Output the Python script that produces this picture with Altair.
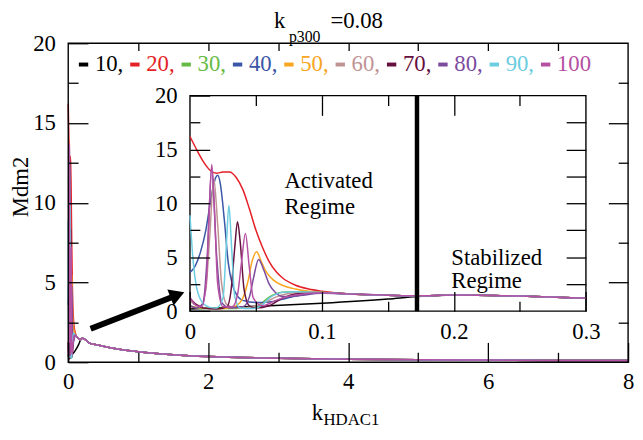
import altair as alt
import pandas as pd

FONT = "Liberation Serif"

SERIES = ["10", "20", "30", "40", "50", "60", "70", "80", "90", "100"]
COLORS = ["#000000", "#e41f26", "#66bb46", "#3a56a6", "#f8a51f",
          "#c09393", "#65103e", "#7c4b9d", "#6ccce0", "#b550a2"]

# head of each curve (small k_HDAC1)
X10 = [0, 0.05, 0.1, 0.15, 0.172]
Y10 = [0.2, 0.45, 0.73, 1.12, 1.35]
X20 = [0, 0.005, 0.01, 0.015, 0.02, 0.025, 0.03, 0.035, 0.04, 0.045, 0.05, 0.055, 0.06, 0.065, 0.07, 0.08, 0.09, 0.1]
Y20 = [16.2, 15.0, 13.9, 13.1, 12.8, 12.9, 12.9, 12.4, 11.3, 9.5, 7.5, 5.9, 4.6, 3.7, 3.1, 2.4, 2.05, 1.85]
X30 = [0, 0.005, 0.01, 0.02, 0.03, 0.04, 0.05, 0.055, 0.06, 0.065, 0.07, 0.08, 0.09, 0.1]
Y30 = [0.5, 0.3, 0.25, 0.25, 0.25, 0.3, 0.45, 0.8, 1.3, 1.6, 1.75, 1.8, 1.78, 1.72]
X40 = [0, 0.004, 0.008, 0.012, 0.016, 0.0195, 0.021, 0.023, 0.026, 0.029, 0.032, 0.036, 0.04, 0.05, 0.06, 0.07, 0.08, 0.1]
Y40 = [3.6, 4.2, 5.5, 7.5, 10.5, 12.4, 12.6, 11.8, 8.5, 4.5, 2.5, 1.4, 1.0, 0.8, 0.85, 1.1, 1.4, 1.7]
X50 = [0, 0.01, 0.02, 0.03, 0.035, 0.04, 0.044, 0.047, 0.0505, 0.054, 0.058, 0.063, 0.07, 0.08, 0.09, 0.1]
Y50 = [0.4, 0.3, 0.25, 0.3, 0.5, 1.2, 2.8, 4.6, 5.5, 4.6, 3.6, 2.9, 2.4, 2.05, 1.85, 1.75]
X60 = [0, 0.004, 0.008, 0.012, 0.015, 0.018, 0.021, 0.024, 0.028, 0.035, 0.045, 0.055, 0.065, 0.08, 0.1]
Y60 = [1.0, 0.6, 0.5, 2.0, 7.0, 12.3, 8.0, 2.5, 0.6, 0.3, 0.35, 0.7, 1.3, 1.7, 1.72]
X70 = [0, 0.005, 0.01, 0.02, 0.028, 0.031, 0.034, 0.036, 0.038, 0.041, 0.045, 0.05, 0.06, 0.07, 0.08, 0.1]
Y70 = [1.2, 0.6, 0.3, 0.2, 0.4, 1.8, 6.0, 8.3, 6.5, 2.0, 0.5, 0.3, 0.5, 1.2, 1.6, 1.72]
X80 = [0, 0.005, 0.01, 0.013, 0.0165, 0.02, 0.024, 0.03, 0.04, 0.045, 0.048, 0.052, 0.056, 0.06, 0.065, 0.07, 0.08, 0.1]
Y80 = [0.5, 0.3, 0.8, 5.0, 13.3, 5.5, 0.8, 0.3, 0.4, 1.3, 3.0, 4.8, 3.8, 2.5, 1.7, 1.35, 1.4, 1.65]
X90 = [0, 0.0025, 0.005, 0.0075, 0.01, 0.015, 0.02, 0.025, 0.0275, 0.0295, 0.0315, 0.034, 0.038, 0.045, 0.05, 0.055, 0.06, 0.065, 0.07, 0.08, 0.1]
Y90 = [8.9, 4.5, 2.2, 1.2, 0.7, 0.35, 0.3, 1.2, 6.0, 9.8, 6.0, 1.3, 0.3, 0.25, 0.3, 0.6, 1.2, 1.55, 1.75, 1.8, 1.72]
X100 = [0, 0.005, 0.009, 0.0125, 0.0145, 0.0165, 0.0185, 0.021, 0.025, 0.032, 0.036, 0.039, 0.042, 0.045, 0.048, 0.055, 0.065, 0.08, 0.1]
Y100 = [1.3, 0.5, 0.4, 3.0, 9.0, 13.6, 9.5, 2.5, 0.4, 0.4, 1.5, 4.5, 7.2, 4.0, 1.2, 0.5, 1.0, 1.5, 1.7]

# common tail shared by all curves (large k_HDAC1)
TAIL_X = [0.12, 0.15, 0.172, 0.2, 0.25, 0.3, 0.4, 0.5, 0.75, 1.0, 1.5, 2.0, 3.0, 4.0, 5.0, 6.0, 7.0, 8.0]
TAIL_Y = [1.6, 1.48, 1.42, 1.5, 1.4, 1.2, 1.1, 1.0, 0.8, 0.66, 0.47, 0.35, 0.25, 0.19, 0.15, 0.13, 0.11, 0.1]

HEAD_XS = [X10, X20, X30, X40, X50, X60, X70, X80, X90, X100]
HEAD_YS = [Y10, Y20, Y30, Y40, Y50, Y60, Y70, Y80, Y90, Y100]

REGIME_X = 0.172
ANNOT_TEXT = ["Activated", "Regime", "Stabilized", "Regime"]
ANNOT_X = [0.0716, 0.0716, 0.198, 0.198]
ANNOT_Y = [12.1, 9.7, 4.95, 2.8]
ARROW_X = [0.32, 1.47]
ARROW_Y = [2.1, 4.05]
ARROW_HEAD = [1.56, 4.22]

rows = []
for name, hx, hy in zip(SERIES, HEAD_XS, HEAD_YS):
    for x, y in zip(hx, hy):
        rows.append((name, x, y))
    for x, y in zip(TAIL_X, TAIL_Y):
        if x > hx[-1]:
            rows.append((name, x, y))
df = pd.DataFrame(rows, columns=["k", "x", "y"])
df_inset = df[df["x"] <= 0.3]

W, H = 567, 323
IX_RANGE = [123.3, 524.3]
IY_RANGE = [271.3, 53.0]

MXS = alt.Scale(domain=[0, 8], nice=False, zero=False)
MYS = alt.Scale(domain=[0, 20], nice=False, zero=False)
IXS = alt.Scale(domain=[0, 0.3], range=IX_RANGE, nice=False, zero=False)
IYS = alt.Scale(domain=[0, 20], range=IY_RANGE, nice=False, zero=False)
CS = alt.Scale(domain=SERIES, range=COLORS)

one = pd.DataFrame({"v": [0.0]})


def ax(orient, values, size, offset, **kw):
    base = dict(orient=orient, values=values, tickSize=size, offset=offset,
                domain=False, grid=False, labels=False, ticks=True,
                tickColor="black", tickWidth=1.3, title=None, zindex=1,
                labelFont=FONT, labelFontSize=23, labelColor="black",
                labelFlush=False, labelOverlap=False, format="~g",
                titleFont=FONT, titleFontSize=23, titleFontWeight="normal",
                titleColor="black")
    base.update(kw)
    return alt.Axis(**base)


def holder(channel, scale, axis):
    if channel == "x":
        enc = {"x": alt.X("v:Q", scale=scale, axis=axis)}
    else:
        enc = {"y": alt.Y("v:Q", scale=scale, axis=axis)}
    return alt.Chart(one).mark_point(opacity=0).encode(**enc)


legend = alt.Legend(
    orient="none", legendX=2, legendY=7.8, direction="horizontal",
    title=None, symbolType="stroke", symbolStrokeWidth=4, symbolSize=90,
    labelFont=FONT, labelFontSize=23,
    labelColor=alt.ExprRef(expr="scale('color', datum.value)"),
    labelExpr="datum.label == '100' ? datum.label : datum.label + ','",
    columnPadding=-6, labelOffset=0, fillColor="white", padding=2, zindex=1,
)

main_lines = alt.Chart(df).mark_line(strokeWidth=1.5, interpolate="monotone").encode(
    x=alt.X("x:Q", scale=MXS, axis=None),
    y=alt.Y("y:Q", scale=MYS, axis=None),
    color=alt.Color("k:N", scale=CS, legend=legend),
)

frame_df = pd.DataFrame({"x0": [0], "x1": [8], "y0": [0], "y1": [20]})
main_frame = alt.Chart(frame_df).mark_rect(fill="transparent", stroke="black", strokeWidth=1.4).encode(
    x=alt.X("x0:Q", scale=MXS, axis=None), x2="x1:Q",
    y=alt.Y("y0:Q", scale=MYS, axis=None), y2="y1:Q",
)

arrow_df = pd.DataFrame({"x0": [ARROW_X[0]], "x1": [ARROW_X[1]], "y0": [ARROW_Y[0]], "y1": [ARROW_Y[1]]})
arrow = alt.Chart(arrow_df).mark_rule(strokeWidth=6, color="black").encode(
    x=alt.X("x0:Q", scale=MXS, axis=None), x2="x1:Q",
    y=alt.Y("y0:Q", scale=MYS, axis=None), y2="y1:Q",
)
head_df = pd.DataFrame({"x": [ARROW_HEAD[0]], "y": [ARROW_HEAD[1]]})
arrow_head = alt.Chart(head_df).mark_point(shape="triangle-right", filled=True, size=300,
                                            angle=338.7, color="black", opacity=1).encode(
    x=alt.X("x:Q", scale=MXS, axis=None),
    y=alt.Y("y:Q", scale=MYS, axis=None),
)

inset_df = pd.DataFrame({"x0": [0], "x1": [0.3], "y0": [0], "y1": [20]})
inset_box = alt.Chart(inset_df).mark_rect(fill="white", stroke="black", strokeWidth=1.4).encode(
    x=alt.X("x0:Q", scale=IXS, axis=None), x2="x1:Q",
    y=alt.Y("y0:Q", scale=IYS, axis=None), y2="y1:Q",
)

inset_lines = alt.Chart(df_inset).mark_line(strokeWidth=1.5, interpolate="monotone").encode(
    x=alt.X("x:Q", scale=IXS, axis=None),
    y=alt.Y("y:Q", scale=IYS, axis=None),
    color=alt.Color("k:N", scale=CS, legend=None),
)

vline_df = pd.DataFrame({"x": [REGIME_X], "y0": [0], "y1": [20]})
vline = alt.Chart(vline_df).mark_rule(strokeWidth=4.5, color="black").encode(
    x=alt.X("x:Q", scale=IXS, axis=None),
    y=alt.Y("y0:Q", scale=IYS, axis=None), y2="y1:Q",
)

annot_df = pd.DataFrame({"t": ANNOT_TEXT, "x": ANNOT_X, "y": ANNOT_Y})
annot = alt.Chart(annot_df).mark_text(font=FONT, fontSize=23, align="left", baseline="middle",
                                      color="black").encode(
    x=alt.X("x:Q", scale=IXS, axis=None),
    y=alt.Y("y:Q", scale=IYS, axis=None),
    text="t:N",
)

MAJ, MIN = 20, 10
axes = [
    # main x
    holder("x", MXS, ax("bottom", [0, 2, 4, 6, 8], MAJ, -MAJ, labels=True, labelPadding=9,
                        title="k", titleX=246, titleY=78, titleAlign="left",
                        titleBaseline="alphabetic")),
    holder("x", MXS, ax("bottom", [1, 3, 5, 7], MIN, -MIN, title="HDAC1", titleX=258, titleY=73,
                        titleAlign="left", titleBaseline="alphabetic", titleFontSize=17)),
    holder("x", MXS, ax("top", [1, 2, 3, 4, 5, 6, 7], 9, -9, title="k", titleX=208, titleY=-25,
                        titleAlign="left", titleBaseline="alphabetic")),
    # main y
    holder("y", MYS, ax("left", [0, 5, 10, 15, 20], MAJ, -MAJ, labels=True, labelPadding=13,
                        title="Mdm2", titleAngle=270, titleX=-68, titleY=145,
                        titleAlign="center", titleBaseline="middle")),
    holder("y", MYS, ax("left", [2.5, 7.5, 12.5, 17.5], MIN, -MIN)),
    holder("y", MYS, ax("right", [5, 10, 15], MAJ, -MAJ, title="p300", titleAngle=0,
                        titleX=-324, titleY=-2, titleAlign="left", titleBaseline="alphabetic",
                        titleFontSize=16)),
    holder("y", MYS, ax("right", [2.5, 7.5, 12.5, 17.5], MIN, -MIN, title="=0.08", titleAngle=0,
                        titleX=-292, titleY=-16, titleAlign="left", titleBaseline="alphabetic")),
    # inset x
    holder("x", IXS, ax("bottom", [0, 0.1, 0.2, 0.3], MAJ, -(H - IY_RANGE[0]) - MAJ,
                        labels=True, labelPadding=10)),
    holder("x", IXS, ax("bottom", [0.05, 0.15, 0.25], MIN, -(H - IY_RANGE[0]) - MIN)),
    holder("x", IXS, ax("top", [0.1, 0.2], MAJ, -IY_RANGE[1] - MAJ)),
    holder("x", IXS, ax("top", [0.05, 0.15, 0.25], MIN, -IY_RANGE[1] - MIN)),
    # inset y
    holder("y", IYS, ax("left", [0, 5, 10, 15, 20], MAJ, -IX_RANGE[0] - MAJ,
                        labels=True, labelPadding=13)),
    holder("y", IYS, ax("left", [2.5, 7.5, 12.5, 17.5], MIN, -IX_RANGE[0] - MIN)),
    holder("y", IYS, ax("right", [2.5, 5, 7.5, 10, 12.5, 15, 17.5], MAJ, -(W - IX_RANGE[1]) - MAJ)),
]

chart = alt.layer(
    main_lines, main_frame, arrow, arrow_head, inset_box, inset_lines, vline, annot, *axes
).resolve_scale(
    x="independent", y="independent"
).resolve_axis(
    x="independent", y="independent"
).properties(
    width=W, height=H,
    autosize=alt.AutoSizeParams(type="none"),
    padding={"left": 61, "top": 33, "right": 7, "bottom": 68},
).configure_view(stroke=None)

chart.save("out.html", embed_options={"renderer": "svg", "actions": False})
